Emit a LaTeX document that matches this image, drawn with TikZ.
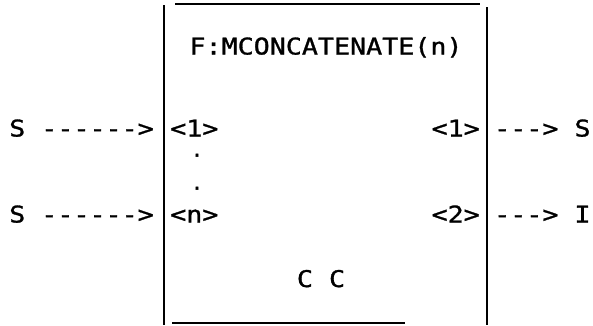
\documentclass[tikz,border=0pt]{standalone}
\usepackage{fontspec}
\newfontfamily\tw[FakeStretch=1.16,FakeBold=1.2]{DejaVu Sans Mono}
\newfontfamily\twdot[FakeBold=3]{DejaVu Sans Mono}
\begin{document}
\begin{tikzpicture}[x=1pt,y=-1pt,
  txt/.style={inner sep=0pt, font=\tw\fontsize{23}{26}\selectfont},
  dotmark/.style={inner sep=0pt, font=\twdot\fontsize{17}{18}\selectfont},
  rule/.style={line width=2pt, black}]
\useasboundingbox (0,0) rectangle (593,325);
% box edges
\coordinate (lt) at (164,5);
\coordinate (lb) at (164,325);
\coordinate (rt) at (487,7);
\coordinate (rb) at (487,325);
\coordinate (tl) at (175,4);
\coordinate (tr) at (480,4);
\coordinate (bl) at (172,323);
\coordinate (br) at (405,323);
\draw[rule] (lt) -- (lb);
\draw[rule] (rt) -- (rb);
\draw[rule] (tl) -- (tr);
\draw[rule] (bl) -- (br);
% texts
\node[txt, anchor=base] (title) at (326,54.5) {F:MCONCATENATE(n)};
\node[txt, anchor=base west] (in1) at (9,136.5) {S ------>};
\node[txt, anchor=base west] (inn) at (9,222.5) {S ------>};
\node[txt, anchor=base west] (p1) at (170,136.5) {<1>};
\node[txt, anchor=base west] (pn) at (170,222.5) {<n>};
\node[dotmark, anchor=base] (d1) at (197,156.5) {.};
\node[dotmark, anchor=base] (d2) at (197,189.5) {.};
\node[txt, anchor=base east] (q1) at (480,136.5) {<1>};
\node[txt, anchor=base east] (q2) at (480,222.5) {<2>};
\node[txt, anchor=base west] (out1) at (494,136.5) {---> S};
\node[txt, anchor=base west] (out2) at (494,222.5) {---> I};
\node[txt, anchor=base] (cc) at (321,287) {C C};
\end{tikzpicture}
\end{document}
